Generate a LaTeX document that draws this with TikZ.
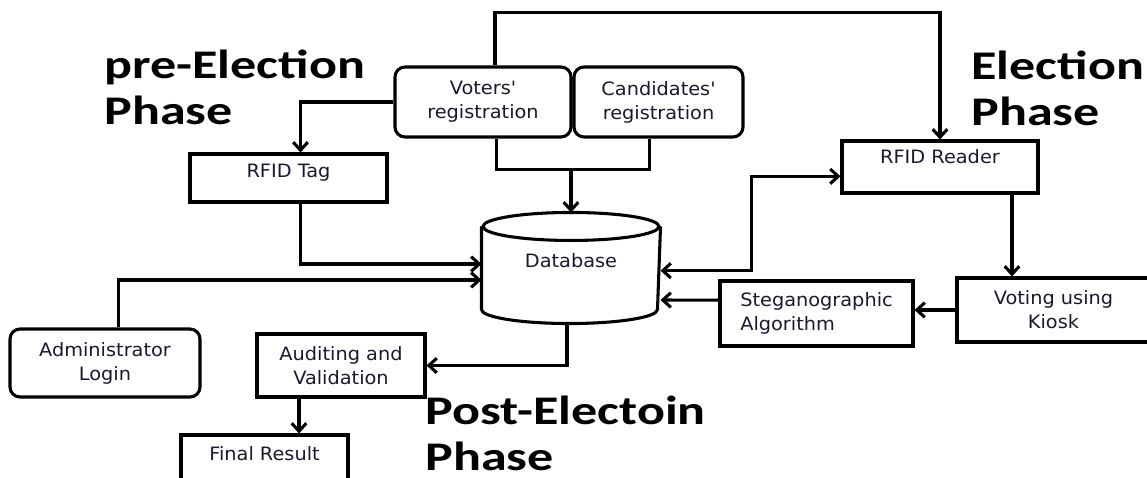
\documentclass[tikz,border=0pt]{standalone}
\usepackage{fontspec}
\usetikzlibrary{arrows.meta}
\newfontfamily\boxfont{DejaVu Sans}[FakeStretch=1.05]
\newfontfamily\headfont{Carlito}[FakeStretch=1.28]
\definecolor{ink}{RGB}{25,25,45}

\begin{document}
\begin{tikzpicture}[x=0.75pt, y=-0.75pt, line width=2.3pt,
  >={Straight Barb[length=6pt,width=11pt]},
  box/.style={draw, align=center, text=ink, inner sep=2pt,
    font=\boxfont\fontsize{13.8}{18}\selectfont},
  roundbox/.style={box, rounded corners=7.5pt},
  phase/.style={anchor=base west, align=left, inner sep=0pt,
    font=\headfont\bfseries\fontsize{30.5}{34.5}\selectfont}]

\useasboundingbox (0,0) rectangle (1147,478);

% phase titles
\node[phase] (pre) at (103,124) {pre-Election\\Phase};
\node[phase] (elect) at (970,126) {Election\\Phase};
\node[phase] (post) at (424,470) {Post-Electoin\\Phase};

% boxes
\node[roundbox, minimum width=132pt, minimum height=52.5pt] (vreg) at (483,102) {Voters'\\registration};
\node[roundbox, minimum width=126.75pt, minimum height=52.5pt] (creg) at (658.5,102) {Candidates'\\registration};
\node[box, minimum width=147.75pt, minimum height=36pt, text depth=10.5pt] (tag) at (288.5,178) {RFID Tag};
\node[box, minimum width=147pt, minimum height=39pt, text depth=15pt] (reader) at (940,167) {RFID Reader};
\node[box, minimum width=144.75pt, minimum height=48pt] (kiosk) at (1053.5,310) {Voting using\\Kiosk};
\node[box, align=left, minimum width=144.75pt, minimum height=48.75pt] (steg) at (816.5,313.5) {Steganographic\\Algorithm};
\node[box, draw=none, minimum width=132pt, minimum height=81pt, text depth=10.5pt] (db) at (571,268) {Database};
\node[roundbox, minimum width=142.5pt, minimum height=51pt] (admin) at (105,363) {Administrator\\Login};
\node[box, minimum width=126pt, minimum height=47.25pt] (audit) at (341,365.5) {Auditing and\\Validation};
\node[box, minimum width=125.25pt, minimum height=45pt, text depth=16.5pt] (final) at (264.5,465) {Final Result};

% database cylinder
\draw ([yshift=-10.5pt]db.north west) -- ([yshift=10.5pt]db.south west)
  arc[start angle=180, end angle=360, x radius=66pt, y radius=10.5pt]
  -- ([yshift=-10.5pt]db.north east);
\draw ([yshift=-10.5pt]db.north) ellipse [x radius=66pt, y radius=10.5pt];

% registration
\draw[->] ([xshift=9pt]vreg.north) -- ++(0,-53) -| (reader.north);
\draw[->] (vreg.west) -| ([xshift=9pt]tag.north);
\draw ([xshift=10pt]vreg.south) -- ++(0,31) -| ([xshift=-7pt]creg.south);
\coordinate (join) at (571,168);
\draw[->] (join) -- (db.north);

% into database
\draw[->] ([xshift=9pt]tag.south) |- ([yshift=3pt]db.west);
\draw[->] ([xshift=10pt]admin.north) |- ([yshift=-9pt]db.west);
\draw[<->] ([yshift=-2pt]db.east) -- ++(91,0) |- ([yshift=-7pt]reader.west);
\draw[->] ([yshift=10pt]steg.west) -- ([yshift=-24pt]db.east);

% voting
\draw[->] ([xshift=54pt]reader.south) -- ([xshift=54pt]reader.south |- kiosk.north);
\draw[->] (kiosk.west) -- (kiosk.west -| steg.east);

% post election
\draw[->] ([xshift=-3pt]db.south) |- (audit.east);
\draw[->] ([xshift=-31.5pt]audit.south) -- ([xshift=-31.5pt]audit.south |- final.north);
\end{tikzpicture}
\end{document}
